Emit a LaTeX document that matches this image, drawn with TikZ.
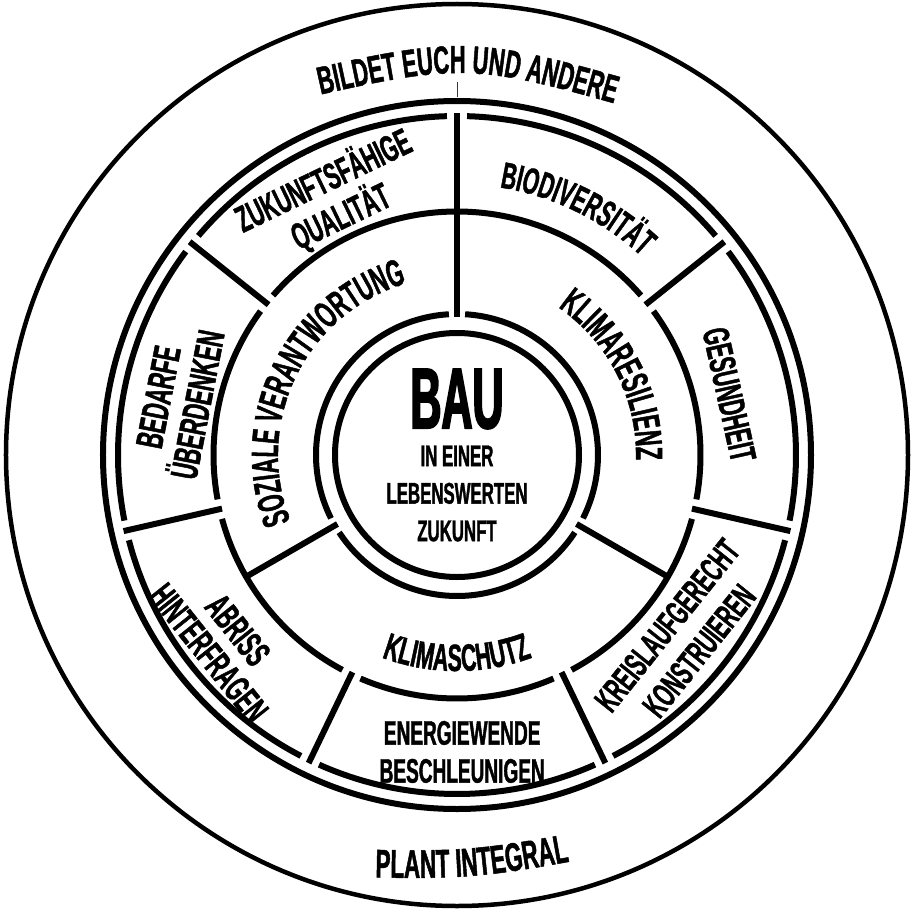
\documentclass[tikz,border=0pt]{standalone}
\usepackage{fontspec}
\newfontfamily\wheelfont{Liberation Sans}[FakeStretch=0.56, BoldFeatures={FakeBold=1.2}]
\newfontfamily\baufont{Liberation Sans}[FakeStretch=0.5, BoldFeatures={FakeBold=2}]
\usetikzlibrary{decorations.text}

\tikzset{
  rim/.style={line width=4.5pt},
  ring/.style={line width=6pt},
  spoke/.style={line width=6pt},
  field text/.style={font=\wheelfont\bfseries\fontsize{37}{40}\selectfont,
    align=center, inner sep=0pt},
  % text along a path: font size, text
  arc text/.style 2 args={decorate, decoration={text along path, text align=center,
      text={|\wheelfont\bfseries\fontsize{#1}{#1}\selectfont|#2}}},
}

\begin{document}
\begin{tikzpicture}[x=1pt, y=1pt]
  \useasboundingbox (-457,-456) rectangle (458,455);

  % closed circles
  \draw[rim] (0,0) circle (451);
  \draw[ring] (0,0) circle (354);
  \draw[ring] (0,0) circle (122);

  % outer band: seven fields
  \foreach \k in {0,...,6}{
    \pgfmathsetmacro\fa{90+\k*360/7+1.7}
    \pgfmathsetmacro\fb{90+(\k+1)*360/7-1.7}
    \pgfmathsetmacro\fs{90+\k*360/7}
    \draw[ring] (\fa:339) arc[start angle=\fa, end angle=\fb, radius=339];
    \draw[spoke] (\fs:241) -- (\fs:342);
  }
  \foreach \i/\j in {1/2,2/3,3/4,4/5,5/6,6/8}{
    \pgfmathsetmacro\fa{90+\i*360/7+2.35}
    \pgfmathsetmacro\fb{90+\j*360/7-2.35}
    \draw[ring] (\fa:243.5) arc[start angle=\fa, end angle=\fb, radius=243.5];
  }

  % middle ring: three fields
  \foreach \c in {90,210,330}{
    \pgfmathsetmacro\fa{\c+3.3}
    \pgfmathsetmacro\fb{\c+120-3.3}
    \draw[ring] (\fa:141) arc[start angle=\fa, end angle=\fb, radius=141];
    \draw[spoke] (\c:138) -- (\c:243.5);
  }
  \draw[red!75!black, line width=0.8pt] (90:358) -- (90:373);

  % centre
  \node[font=\baufont\bfseries\fontsize{86}{86}\selectfont, inner sep=0pt]
    (bau) at (0,56) {BAU};
  \node[field text, font=\wheelfont\bfseries\fontsize{30}{37.5}\selectfont]
    (zukunft) at (0,-38.5) {IN EINER\\LEBENSWERTEN\\ZUKUNFT};

  % middle ring
  \path[arc text={38}{SOZIALE VERANTWORTUNG}] (215:179) arc[start angle=215, end angle=93, radius=179];
  \path[arc text={38}{KLIMARESILIENZ}] (85:179) arc[start angle=85, end angle=-31, radius=179];
  \path[arc text={38}{KLIMASCHUTZ}] (225:216) arc[start angle=225, end angle=315, radius=216];

  % outer band
  \node[field text, rotate=25.7] (qualitaet) at (116:285) {ZUKUNFTSFÄHIGE\\QUALITÄT};
  \path[arc text={37}{BIODIVERSITÄT}] (90:271) arc[start angle=90, end angle=38, radius=271];
  \node[field text, rotate=-77.5] (gesundheit) at (12.5:279) {GESUNDHEIT};
  \node[field text, font=\wheelfont\bfseries\fontsize{35}{41}\selectfont, rotate=51.4]
    (kreislauf) at (321:291) {KREISLAUFGERECHT\\KONSTRUIEREN};
  \node[field text, font=\wheelfont\bfseries\fontsize{34}{38}\selectfont]
    (energie) at (271:297) {ENERGIEWENDE\\BESCHLEUNIGEN};
  \node[field text, font=\wheelfont\bfseries\fontsize{37}{37}\selectfont, rotate=-51.4]
    (abriss) at (218.6:299) {ABRISS\\HINTERFRAGEN};
  \node[field text, font=\wheelfont\bfseries\fontsize{38}{40}\selectfont, rotate=79]
    (bedarfe) at (169:284) {BEDARFE\\ÜBERDENKEN};

  % outside
  \path[arc text={39}{BILDET EUCH UND ANDERE}] (-178,351) .. controls (10,394) .. (198,340);
  \path[arc text={40}{PLANT INTEGRAL}] (-140,-421) .. controls (15,-425) .. (170,-396);
\end{tikzpicture}
\end{document}
